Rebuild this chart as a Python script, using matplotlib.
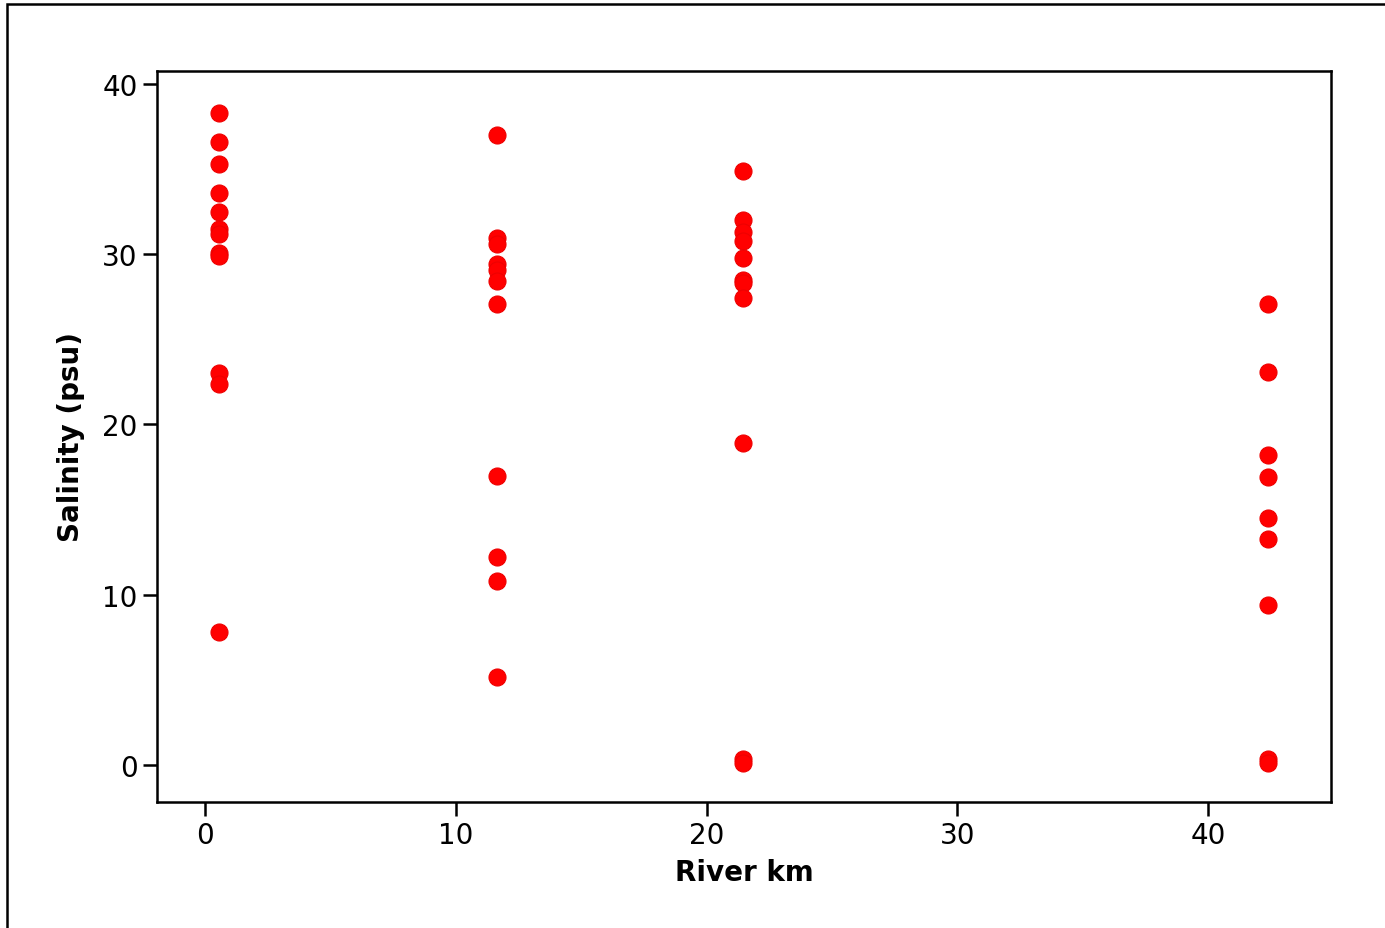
import matplotlib.pyplot as plt
from matplotlib.patches import Rectangle

# River km of each sampling station, and salinity readings at each
km_a = 0.56
sal_a = [38.3, 36.6, 35.3, 33.6, 32.5, 31.5, 31.2, 30.1, 29.9, 23.0, 22.4, 7.8]
km_b = 11.65
sal_b = [37.0, 30.95, 30.6, 29.4, 29.1, 28.4, 27.1, 17.0, 12.2, 10.8, 5.2]
km_c = 21.46
sal_c = [34.9, 32.0, 31.3, 30.8, 29.8, 28.5, 28.3, 27.4, 18.9, 0.35, 0.12]
km_d = 42.4
sal_d = [27.1, 23.1, 18.2, 16.9, 14.5, 13.3, 9.4, 0.35, 0.12]

xs = [km_a] * len(sal_a) + [km_b] * len(sal_b) + [km_c] * len(sal_c) + [km_d] * len(sal_d)
ys = sal_a + sal_b + sal_c + sal_d

fig = plt.figure(figsize=(13.85, 9.29), dpi=100)
ax = fig.add_axes([157 / 1385, 1 - 803 / 929, 1174 / 1385, 731 / 929])

ax.scatter(xs, ys, s=150, color='#ff0000', edgecolors='#ee0000', linewidths=0.8, zorder=3)

ax.set_xlim(-1.91, 44.9)
ax.set_ylim(-2.17, 40.76)
ax.set_xticks([0, 10, 20, 30, 40])
ax.set_yticks([0, 10, 20, 30, 40])
ax.tick_params(direction='out', length=10, width=1.8, labelsize=20, pad=4,
               top=False, right=False)
for sp in ax.spines.values():
    sp.set_linewidth(1.8)

ax.set_xlabel('River km', fontsize=20, fontweight='bold', labelpad=6)
ax.set_ylabel('Salinity (psu)', fontsize=20, fontweight='bold', labelpad=12)

# outer frame of the original figure, cropped at right and bottom
fig.patches.append(Rectangle((7 / 1385, -0.1), 1.2, 1.1 - 5 / 929,
                             transform=fig.transFigure, fill=False,
                             edgecolor='black', linewidth=1.8))

fig.savefig('out.png', dpi=100)
